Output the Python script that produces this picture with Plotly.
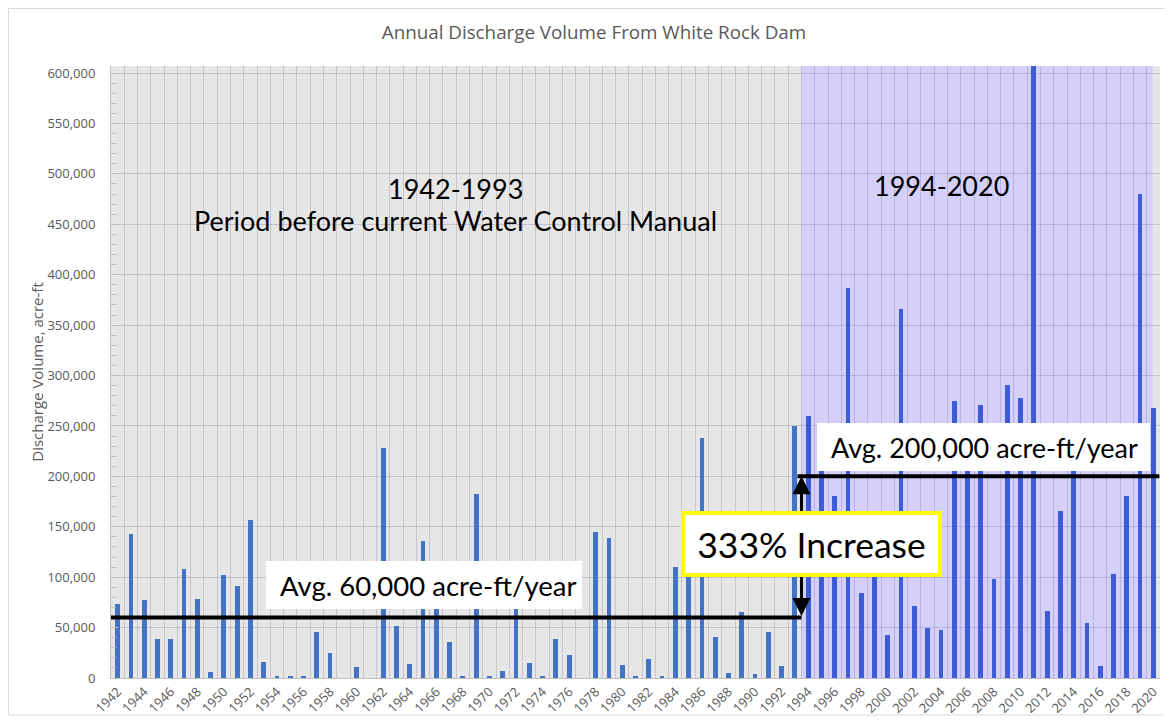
import plotly.graph_objects as go

# ---------------- data ----------------
YEARS_BEFORE = list(range(1942, 1994))
DISCHARGE_BEFORE = [73500, 143000, 77000, 39000, 38400, 108000, 78000, 6000, 102000, 91000,
                    157000, 16000, 1700, 1700, 1000, 46000, 25000, 0, 10600, 0,
                    228000, 52000, 13600, 136000, 88000, 35400, 1000, 182700, 1000, 6600,
                    78000, 14900, 1700, 39000, 22800, 0, 145000, 139000, 12600, 1000,
                    18500, 1700, 110500, 115000, 238000, 41000, 5300, 65500, 4300, 45700,
                    11600, 249600]
YEARS_AFTER = list(range(1994, 2021))
DISCHARGE_AFTER = [260000, 230000, 181000, 387000, 84000, 130000, 43000, 366000, 71000, 49700,
                   47500, 275000, 230000, 271000, 98000, 290600, 277600, 640000, 66000, 166000,
                   225000, 54800, 11700, 103000, 181000, 480000, 267700]
TICK_YEARS = list(range(1942, 2021, 2))
TICK_TEXT = [str(y) for y in TICK_YEARS]

AVG_BEFORE = 60000
AVG_AFTER = 200000
SPLIT = 1993.5
Y_MAX = 607000

TITLE = "Annual Discharge Volume From White Rock Dam"
Y_TITLE = "Discharge Volume, acre-ft"

# ---------------- figure ----------------
# page body has an 8px margin, so the figure is 8px smaller and margins are shifted
W, H = 1164, 715
ML, MR, MT, MB = 103, 12, 58, 45
PW, PH = W - ML - MR, H - MT - MB

fig = go.Figure()
fig.add_trace(go.Bar(x=YEARS_BEFORE, y=DISCHARGE_BEFORE, width=0.36,
                     marker=dict(color="#4472C4", line=dict(width=0)), showlegend=False))
fig.add_trace(go.Bar(x=YEARS_AFTER, y=DISCHARGE_AFTER, width=0.36,
                     marker=dict(color="#3D5CD6", line=dict(width=0)), showlegend=False))

GRID = "rgba(40,30,90,0.17)"
GREY_TXT = "#595959"

fig.update_layout(
    width=W, height=H,
    margin=dict(l=ML, r=MR, t=MT, b=MB),
    paper_bgcolor="white",
    plot_bgcolor="#e6e6e6",
    bargap=0,
    title=dict(text=TITLE, x=586 / W, xref="container", xanchor="center",
               y=1 - 24 / H, yref="container", yanchor="middle",
               font=dict(family="Open Sans", size=18.8, color=GREY_TXT)),
    xaxis=dict(range=[1941.5, 2020.5], tickmode="array", tickvals=TICK_YEARS, ticktext=TICK_TEXT,
               tickangle=-45, tickfont=dict(family="Open Sans", size=13, color=GREY_TXT),
               showgrid=False, zeroline=False, showline=True, linecolor="#bfbfbf",
               ticks="", automargin=False,
               minor=dict(tick0=1941.5, dtick=1, showgrid=True, gridcolor=GRID, gridwidth=1, ticks="")),
    yaxis=dict(range=[0, Y_MAX], dtick=50000, tickformat=",",
               tickfont=dict(family="Open Sans", size=13, color=GREY_TXT),
               showgrid=True, gridcolor=GRID, gridwidth=1, zeroline=False,
               showline=True, linecolor="#bfbfbf", ticks="inside", ticklen=7, tickcolor="#bfbfbf",
               ticklabelstandoff=12, automargin=False,
               minor=dict(dtick=10000, ticks="inside", ticklen=5, tickcolor="#bfbfbf", showgrid=False),
               title=dict(text=Y_TITLE, standoff=0,
                          font=dict(family="Open Sans", size=15, color=GREY_TXT))),
)

# purple period shading (below gridlines)
fig.add_shape(type="rect", xref="x", yref="y", x0=SPLIT, x1=2019.95, y0=0, y1=Y_MAX,
              fillcolor="#d5d0fa", line=dict(width=0), layer="below")

# outer chart border
fig.add_shape(type="rect", xref="paper", yref="paper",
              x0=(0.5 - ML) / PW, x1=(1158 - ML) / PW,
              y0=(MT + PH - 707) / PH, y1=(MT + PH - 0.5) / PH,
              line=dict(color="#d9d9d9", width=1), fillcolor="rgba(0,0,0,0)", layer="below")

# average lines
fig.add_shape(type="line", xref="x", yref="y", x0=1941.5, x1=SPLIT, y0=AVG_BEFORE, y1=AVG_BEFORE,
              line=dict(color="black", width=4), layer="above")
fig.add_shape(type="line", xref="x", yref="y", x0=SPLIT - 0.3, x1=2020.45, y0=AVG_AFTER, y1=AVG_AFTER,
              line=dict(color="black", width=4), layer="above")

# double arrow (drawn before the "333% Increase" box so the box covers it)
fig.add_annotation(x=SPLIT, y=AVG_AFTER, ax=SPLIT, ay=AVG_BEFORE, xref="x", yref="y",
                   axref="x", ayref="y", text="", showarrow=True,
                   arrowhead=2, startarrowhead=2, arrowside="end+start",
                   arrowsize=1.2, startarrowsize=1.2, arrowwidth=3, arrowcolor="black")

# label boxes
fig.add_shape(type="rect", xref="x", yref="y", x0=1953.18, x1=1976.97, y0=68400, y1=116000,
              fillcolor="white", line=dict(width=0), layer="above")
fig.add_shape(type="rect", xref="x", yref="y", x0=1994.67, x1=2019.75, y0=205300, y1=252900,
              fillcolor="white", line=dict(width=0), layer="above")

TXT = dict(family="Lato", color="black")
fig.add_annotation(x=1994.26, y=132900, xref="x", yref="y", text="333% Increase",
                   showarrow=False, font=dict(size=35.5, **TXT),
                   bgcolor="white", bordercolor="#ffff00", borderwidth=4, borderpad=2,
                   width=249, height=54)
fig.add_annotation(x=1965.4, y=92200, xref="x", yref="y", text="Avg. 60,000 acre-ft/year",
                   showarrow=False, font=dict(size=27.5, **TXT))
fig.add_annotation(x=2007.3, y=229000, xref="x", yref="y", text="Avg. 200,000 acre-ft/year",
                   showarrow=False, font=dict(size=27, **TXT))
fig.add_annotation(x=1967.42, y=486000, xref="x", yref="y", text="1942-1993",
                   showarrow=False, font=dict(size=27, **TXT))
fig.add_annotation(x=1967.42, y=453300, xref="x", yref="y",
                   text="Period before current Water Control Manual",
                   showarrow=False, font=dict(size=27, **TXT))
fig.add_annotation(x=2004.08, y=488000, xref="x", yref="y", text="1994-2020",
                   showarrow=False, font=dict(size=27, **TXT))

fig.write_html("out.html")
